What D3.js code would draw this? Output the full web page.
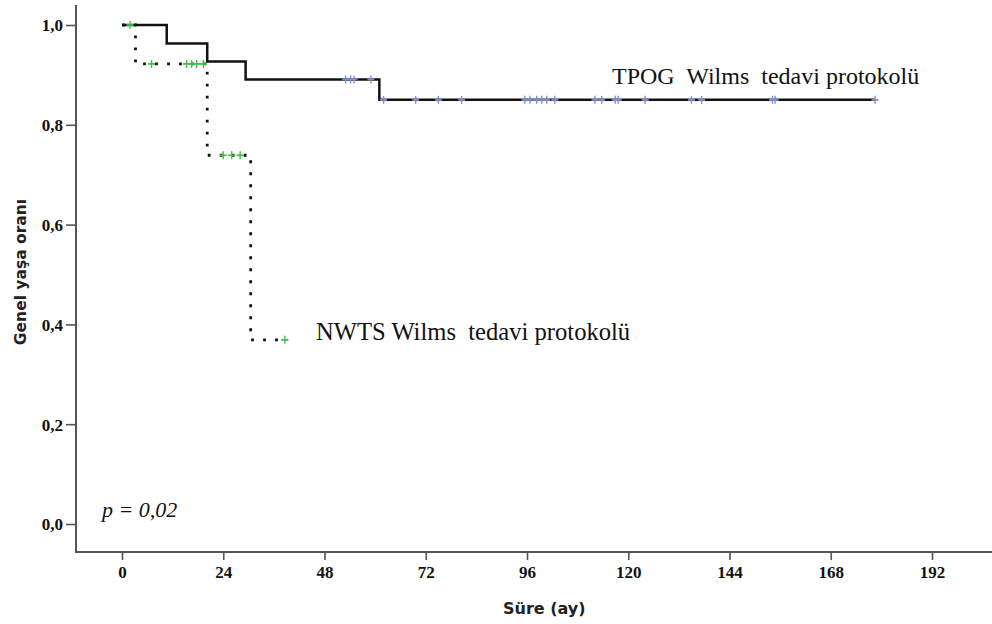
<!DOCTYPE html>
<html>
<head>
<meta charset="utf-8">
<script src="https://cdn.jsdelivr.net/npm/d3@7"></script>
<style>
  body { margin: 0; background: #fff; }
  svg { display: block; }
</style>
</head>
<body>
<div id="chart"></div>
<script>
// Kaplan-Meier steps (months, survival)
var tpogTimes = [0, 10.6, 20.2, 29.3, 61.0];
var tpogSurv = [1, 0.963, 0.927, 0.891, 0.850];
var tpogEnd = 178.5;
var tpogCensor = [53, 54.2, 55, 59, 62, 69.6, 75, 80.5, 95.5, 96.7, 98.3, 99.5, 100.7, 102.6,
  112.1, 113.7, 116.9, 117.6, 124, 135, 137.4, 154.2, 154.8, 178.5];

var nwtsTimes = [0, 3.2, 20.2, 30.5];
var nwtsSurv = [1, 0.922, 0.739, 0.369];
var nwtsEnd = 39.2;
var nwtsCensor = [1.9, 7.0, 15.3, 16.5, 17.7, 19.3, 24, 26, 28, 38.6];

var xTicks = [0, 24, 48, 72, 96, 120, 144, 168, 192];
var yTicks = [0, 0.2, 0.4, 0.6, 0.8, 1.0];

var labels = {
  tpog: "TPOG  Wilms  tedavi protokolü",
  nwts: "NWTS Wilms  tedavi protokolü",
  p: "p = 0,02",
  x: "Süre (ay)",
  y: "Genel yaşa oranı"
};

var width = 992, height = 624;
var axis_color = "#555";
var serif = "'Liberation Serif', 'Times New Roman', serif";
var sans = "'DejaVu Sans', Verdana, sans-serif";

var svg = d3.select("#chart").append("svg")
  .attr("width", width)
  .attr("height", height);

var x = d3.scaleLinear().domain([0, 192]).range([122, 932]);
var y = d3.scaleLinear().domain([0, 1]).range([524, 25]);

var axisX = 76, axisY = 552;

// axes lines (drawn long, like the original)
svg.append("line")
  .attr("x1", axisX).attr("x2", axisX)
  .attr("y1", 5).attr("y2", axisY)
  .attr("stroke", axis_color).attr("stroke-width", 2);
svg.append("line")
  .attr("x1", axisX - 1).attr("x2", width)
  .attr("y1", axisY).attr("y2", axisY)
  .attr("stroke", axis_color).attr("stroke-width", 2);

var gy = svg.append("g")
  .attr("transform", "translate(" + axisX + ",0)")
  .call(d3.axisLeft(y).tickValues(yTicks).tickSize(10).tickPadding(3)
    .tickFormat(function(d) { return d.toFixed(1).replace(".", ","); }));

var gx = svg.append("g")
  .attr("transform", "translate(0," + axisY + ")")
  .call(d3.axisBottom(x).tickValues(xTicks).tickSize(8).tickPadding(6));

[gx, gy].forEach(function(g) {
  g.select(".domain").remove();
  g.selectAll(".tick line").attr("stroke", axis_color).attr("stroke-width", 1.6);
  g.selectAll(".tick text")
    .attr("fill", "#111")
    .style("font-family", serif)
    .style("font-weight", "bold")
    .style("font-size", "17px");
});
gy.selectAll(".tick text").attr("dy", "0.35em");

// step curves
function stepPoints(times, surv, end) {
  var pts = times.map(function(t, i) { return [t, surv[i]]; });
  pts.push([end, surv[surv.length - 1]]);
  return pts;
}

function survAt(times, surv, t) {
  var s = surv[0];
  times.forEach(function(tt, i) { if (tt <= t) s = surv[i]; });
  return s;
}

var line = d3.line()
  .x(function(d) { return x(d[0]); })
  .y(function(d) { return y(d[1]); })
  .curve(d3.curveStepAfter);

svg.append("path")
  .attr("d", line(stepPoints(nwtsTimes, nwtsSurv, nwtsEnd)))
  .attr("fill", "none")
  .attr("stroke", "#111")
  .attr("stroke-width", 2.8)
  .attr("stroke-dasharray", "2.8,9.2");

svg.append("path")
  .attr("d", line(stepPoints(tpogTimes, tpogSurv, tpogEnd)))
  .attr("fill", "none")
  .attr("stroke", "#111")
  .attr("stroke-width", 2.5);

// censor marks
function drawCensor(times, surv, cens, color, cls) {
  var g = svg.selectAll("." + cls)
    .data(cens)
    .enter()
    .append("g")
    .attr("class", cls)
    .attr("transform", function(t) {
      return "translate(" + x(t) + "," + y(survAt(times, surv, t)) + ")";
    });
  g.append("line")
    .attr("x1", 0).attr("x2", 0).attr("y1", -4).attr("y2", 4)
    .attr("stroke", color).attr("stroke-width", 1.4);
  g.append("line")
    .attr("x1", -3.5).attr("x2", 3.5).attr("y1", 0).attr("y2", 0)
    .attr("stroke", color).attr("stroke-width", 1.8);
}

drawCensor(tpogTimes, tpogSurv, tpogCensor, "#7f8fd2", "c-tpog");
drawCensor(nwtsTimes, nwtsSurv, nwtsCensor, "#3fbf4f", "c-nwts");

// labels
svg.append("text")
  .attr("x", 612).attr("y", 84)
  .style("white-space", "pre")
  .style("font-family", serif)
  .style("font-size", "24px")
  .attr("fill", "#111")
  .text(labels.tpog);

svg.append("text")
  .attr("x", 316).attr("y", 340)
  .style("white-space", "pre")
  .style("font-family", serif)
  .style("font-size", "24.6px")
  .attr("fill", "#111")
  .text(labels.nwts);

svg.append("text")
  .attr("x", 102).attr("y", 517)
  .style("font-family", serif)
  .style("font-style", "italic")
  .style("font-size", "22px")
  .attr("fill", "#111")
  .text(labels.p);

svg.append("text")
  .attr("x", 503).attr("y", 614)
  .style("font-family", sans)
  .style("font-weight", "bold")
  .style("font-size", "16px")
  .attr("fill", "#222")
  .text(labels.x);

svg.append("text")
  .attr("transform", "translate(26,272) rotate(-90)")
  .attr("text-anchor", "middle")
  .style("font-family", sans)
  .style("font-weight", "bold")
  .style("font-size", "15.5px")
  .attr("fill", "#222")
  .text(labels.y);
</script>
</body>
</html>
